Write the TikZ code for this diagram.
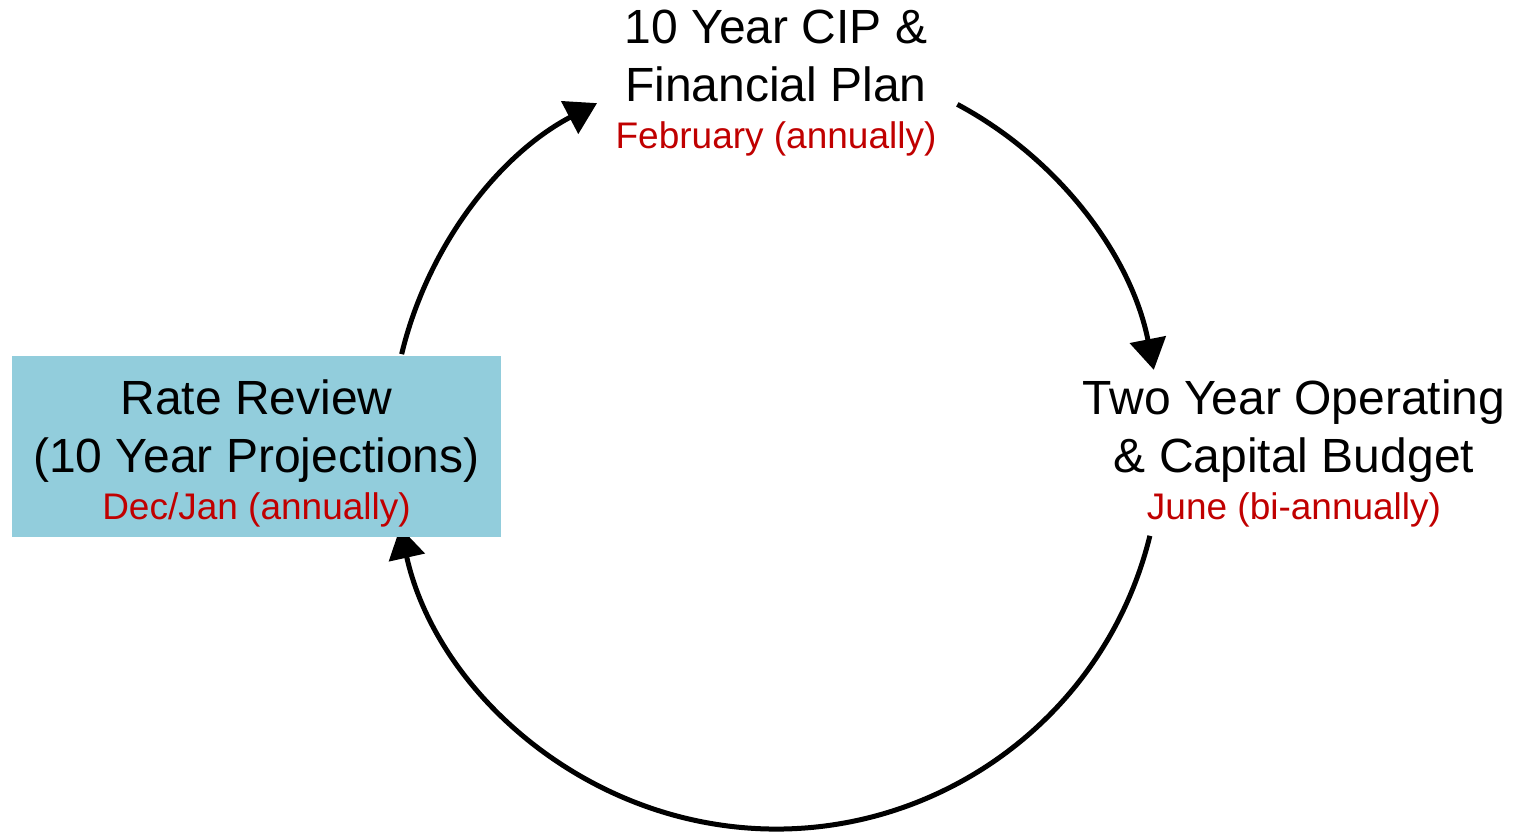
\documentclass[tikz,border=0pt]{standalone}
\usepackage{fontspec}
\setmainfont{Liberation Sans}
\usetikzlibrary{arrows.meta}
\definecolor{datered}{HTML}{C00000}
\definecolor{boxblue}{HTML}{92CDDC}
\tikzset{
  stagetext/.style={align=center, inner sep=0pt, font=\fontsize{48}{58}\selectfont},
  cyclearrow/.style={line width=5pt, -{Triangle[length=31pt,width=36pt]}},
}
\newcommand{\datetext}[1]{{\color{datered}\fontsize{37}{47}\selectfont #1}}
\begin{document}
\begin{tikzpicture}[x=1pt,y=1pt]
\useasboundingbox (0,0) rectangle (1514,832);
\coordinate (c) at (776,388);
% arcs
\draw[cyclearrow] ([shift={(166.5:385)}]c) arc[start angle=166.5, end angle=117.7, radius=385];
\draw[cyclearrow] ([shift={(61.9:385)}]c) arc[start angle=61.9, end angle=11.1, radius=385];
\draw[cyclearrow] ([shift={(-13.8:385)}]c) arc[start angle=-13.8, end angle=-167.5, radius=385];
% box
\node[fill=boxblue, minimum width=489pt, minimum height=181pt, inner sep=0pt] (rate) at (256.5,385.5) {};
\node[stagetext] (ratetext) at (256.5,379) {Rate Review\\(10 Year Projections)\\[-11pt]\datetext{Dec/Jan (annually)}};
\node[stagetext] (cip) at (776,749) {10 Year CIP \&\\Financial Plan\\[-11pt]\datetext{February (annually)}};
\node[stagetext] (budget) at (1294,379) {Two Year Operating\\\& Capital Budget\\[-11pt]\datetext{June (bi-annually)}};
\end{tikzpicture}
\end{document}
